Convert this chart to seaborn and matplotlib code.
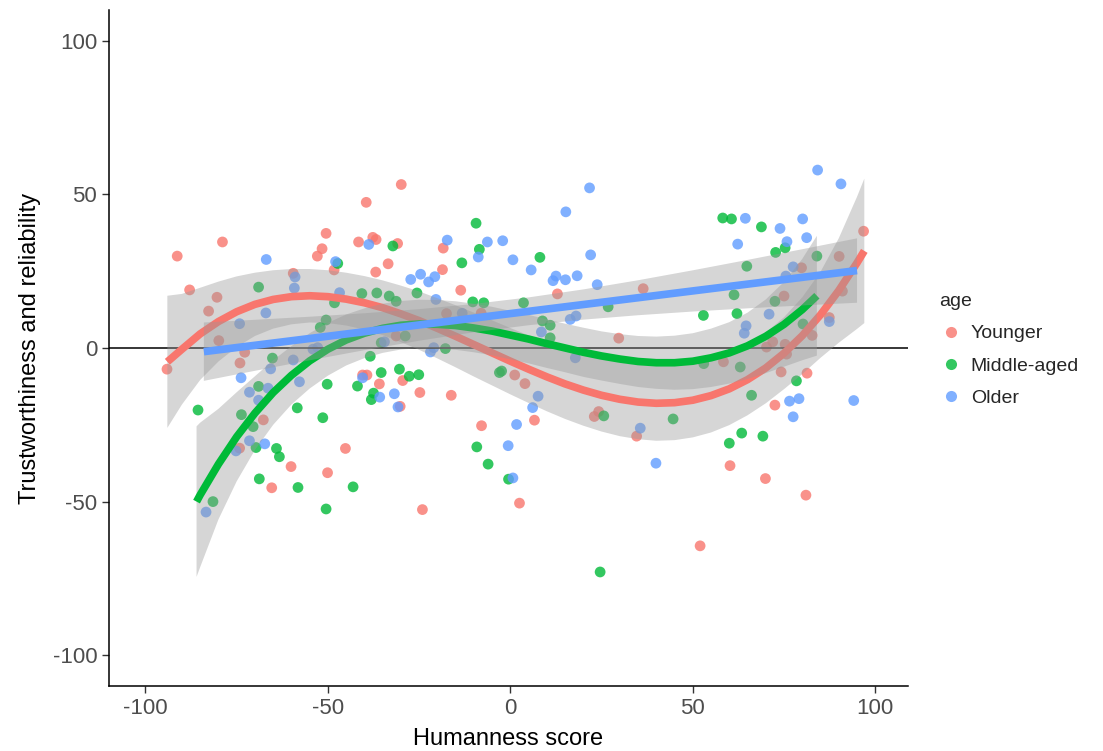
import numpy as np
import matplotlib
matplotlib.use("Agg")
import matplotlib.pyplot as plt
import pandas as pd
import seaborn as sns
from matplotlib.lines import Line2D

# scatter values
younger_x = [-91.3, -78.9, -50.5, -51.6, -52.9, -59.5, -87.9, -80.4, -29.9, -39.5,
             -41.6, -37.7, -36.8, -30.9, -18.4, -48.3, -33.5, -36.9, -18.6, -13.6,
             12.9, 36.4, 96.8, 90.1, 79.8, 75.0, 91.0, -82.7, -79.9, -72.8,
             -94.1, -74.1, -67.7, -74.2, -60.1, -65.4, -50.1, -40.5, -39.3, -29.5,
             -35.9, -24.8, -16.2, -30.2, -7.9, -45.2, -24.1, 2.5, -31.3, -17.5,
             -8.0, 1.2, 29.7, 4.0, 6.6, 24.2, 23.0, 34.6, 52.0, 87.4,
             82.7, 71.9, 70.2, 75.3, 75.7, 58.4, 74.2, 81.3, 72.5, 60.2,
             69.9, 81.0]
younger_y = [29.9, 34.5, 37.3, 32.3, 29.9, 24.3, 18.9, 16.5, 53.2, 47.4,
             34.5, 36.0, 35.3, 34.0, 32.5, 25.4, 27.4, 24.7, 25.5, 18.8,
             17.6, 19.3, 38.0, 29.8, 26.1, 16.9, 18.5, 12.0, 2.4, -1.4,
             -6.9, -4.9, -23.4, -32.6, -38.6, -45.5, -40.6, -8.8, -8.8, -10.6,
             -11.7, -14.5, -15.4, -19.0, -25.3, -32.7, -52.6, -50.5, 3.9, 11.2,
             11.3, -8.8, 3.2, -11.6, -23.5, -20.7, -22.3, -28.7, -64.4, 9.9,
             4.1, 2.0, 0.3, 1.2, -2.0, -4.5, -7.8, -8.2, -18.6, -38.3,
             -42.5, -47.9]

middle_x = [-69.0, -32.2, -9.4, -8.5, -47.3, -13.3, -25.6, -40.7, -36.6, -33.2,
            -31.3, -10.3, -7.3, -48.2, 8.1, 3.6, 58.2, 60.6, 68.8, 75.3,
            72.7, 84.0, 64.8, 61.3, 72.5, -65.2, -52.1, -50.5, -69.0, -85.6,
            -73.7, -70.5, -58.4, -51.4, -50.2, -69.7, -64.1, -63.3, -68.8, -58.2,
            -50.5, -81.5, -38.4, -35.4, -30.4, -27.7, -25.1, -41.9, -37.5, -38.1,
            -9.2, -17.8, -28.8, -35.4, -3.0, -2.4, -43.1, -6.1, -0.5, 26.8,
            52.9, 8.8, 10.9, 10.9, 53.0, 25.6, 44.6, 24.6, 62.1, 80.2,
            63.0, 78.4, 66.1, 63.4, 60.0, 69.2]
middle_y = [19.8, 33.2, 40.6, 32.1, 27.5, 27.7, 17.9, 17.7, 17.9, 16.9,
            15.2, 15.0, 14.7, 14.7, 29.5, 14.7, 42.3, 42.0, 39.4, 32.6,
            31.1, 29.9, 26.6, 17.3, 15.2, -3.3, 6.7, 9.1, -12.5, -20.2,
            -21.7, -25.6, -19.5, -22.7, -11.8, -32.4, -32.7, -35.4, -42.6, -45.4,
            -52.4, -50.0, -2.7, -8.0, -6.9, -9.2, -8.7, -12.4, -14.7, -16.8,
            -32.2, -0.2, 3.9, 1.7, -8.0, -7.5, -45.2, -37.8, -42.7, 13.4,
            10.6, 8.8, 7.4, 3.3, -5.1, -22.1, -23.1, -72.9, 11.2, 7.8,
            -6.2, -10.7, -15.4, -27.7, -31.0, -28.7]

older_x = [-66.9, -59.0, -59.2, -38.8, -17.3, -6.3, -2.1, -8.8, 0.7, -47.9,
           -24.6, -27.3, -20.7, -22.4, -20.4, -46.8, 21.7, 15.2, 22.0, 5.7,
           12.5, 11.7, 15.1, 18.3, 23.8, 84.2, 90.6, 64.4, 73.9, 80.1,
           81.2, 75.8, 62.3, 77.5, 75.5, -67.0, -74.2, -73.8, -65.7, -59.5,
           -57.8, -54.1, -52.8, -71.5, -66.4, -69.0, -71.5, -67.3, -75.2, -83.4,
           -40.5, -35.8, -31.8, -30.8, 1.7, -0.6, -21.0, -21.9, -34.5, -13.2,
           0.7, 16.4, 18.0, 8.5, 17.8, 7.6, 6.1, 35.6, 39.9, 70.9,
           64.6, 64.1, 87.4, 76.5, 79.1, 94.1, 77.5]
older_y = [28.8, 23.1, 19.5, 33.7, 35.1, 34.5, 34.9, 29.6, 28.7, 28.1,
           24.0, 22.3, 23.2, 21.5, 15.8, 18.0, 52.1, 44.3, 30.3, 25.4,
           23.4, 21.9, 22.2, 23.5, 20.6, 57.9, 53.4, 42.2, 38.9, 42.0,
           35.9, 34.6, 33.8, 26.4, 23.4, 11.4, 7.9, -9.7, -6.8, -3.9,
           -11.0, -0.4, 0.1, -14.4, -13.1, -17.0, -30.2, -31.2, -33.5, -53.4,
           -9.7, -16.0, -14.9, -19.2, -24.9, -31.8, 0.1, -1.3, 2.0, 11.3,
           -42.3, 9.3, 10.4, 5.2, -3.2, -15.7, -19.4, -26.1, -37.5, 11.0,
           7.2, 4.8, 8.6, -17.3, -16.5, -17.1, -22.4]

# smoothed trend lines and their confidence bands
younger_fit_x = [-94, -90, -85, -80, -75, -70, -65, -60, -55, -50, -45, -40, -35, -30,
                 -25, -20, -15, -10, -5, 0, 5, 10, 15, 20, 25, 30, 35, 40, 45, 50,
                 55, 60, 65, 70, 75, 80, 85, 90, 95, 97]
younger_fit_y = [-4.5, -0.4, 4.6, 8.6, 11.8, 14.2, 15.8, 16.7, 17.0, 16.7, 15.9, 14.7,
                 13.1, 11.1, 8.9, 6.4, 3.8, 1.1, -1.6, -4.3, -6.9, -9.4, -11.7, -13.7,
                 -15.4, -16.7, -17.6, -18.0, -17.8, -17.0, -15.5, -13.3, -10.3, -6.5,
                 -1.7, 4.0, 10.8, 18.7, 27.7, 31.6]
younger_lo = [-26.0, -18.4, -10.4, -4.4, 0.3, 3.9, 6.3, 7.7, 8.3, 8.1, 7.3, 6.0,
              4.2, 1.9, -0.6, -3.4, -6.3, -9.3, -12.2, -15.1, -17.9, -20.6, -23.1,
              -25.3, -27.2, -28.7, -29.7, -30.2, -30.0, -29.1, -27.5, -25.1, -21.9,
              -18.0, -13.4, -8.5, -3.2, 1.7, 6.2, 8.1]
younger_hi = [17.0, 17.6, 19.6, 21.6, 23.3, 24.5, 25.3, 25.7, 25.7, 25.3, 24.5, 23.4,
              22.0, 20.3, 18.4, 16.2, 13.9, 11.5, 9.0, 6.5, 4.1, 1.8, -0.3, -2.1,
              -3.6, -4.7, -5.5, -5.8, -5.6, -4.9, -3.5, -1.5, 1.3, 5.0, 10.0, 16.5,
              24.8, 35.7, 49.2, 55.1]

middle_fit_x = [-86, -85, -80, -75, -70, -65, -60, -55, -50, -45, -40, -35, -30, -25,
                -20, -15, -10, -5, 0, 5, 10, 15, 20, 25, 30, 35, 40, 45, 50, 55,
                60, 65, 70, 75, 80, 84]
middle_fit_y = [-50, -47.8, -37.8, -28.9, -21.2, -14.5, -8.9, -4.2, -0.4, 2.6, 4.8,
                6.4, 7.4, 7.8, 7.7, 7.3, 6.5, 5.5, 4.2, 2.9, 1.4, 0, -1.4, -2.6,
                -3.6, -4.4, -4.8, -4.8, -4.3, -3.2, -1.6, 0.7, 3.8, 7.7, 12.5, 17]
middle_lo = [-74.5, -71.3, -55.8, -43.4, -33.2, -25.0, -18.4, -13.2, -9.0, -5.7,
             -3.3, -1.6, -0.5, -0.1, -0.2, -0.6, -1.4, -2.4, -3.7, -5.0, -6.5,
             -7.9, -9.4, -10.6, -11.7, -12.7, -13.3, -13.6, -13.4, -12.7, -11.6,
             -10.1, -8.2, -6.1, -4.0, -2.5]
middle_hi = [-25.5, -24.3, -19.8, -14.4, -9.2, -4.0, 0.6, 4.8, 8.2, 10.9, 12.9,
             14.4, 15.3, 15.7, 15.6, 15.2, 14.4, 13.4, 12.1, 10.8, 9.3, 7.9, 6.6,
             5.4, 4.5, 3.9, 3.7, 4.0, 4.8, 6.3, 8.4, 11.5, 15.8, 21.5, 29.0, 36.5]

older_fit_x = [-84, -70, -55, -40, -25, -10, 5, 20, 35, 50, 65, 80, 95]
older_fit_y = [-1.2, 0.87, 3.08, 5.29, 7.50, 9.72, 11.93, 14.14, 16.35, 18.57,
               20.78, 22.99, 25.2]
older_lo = [-10.7, -7.43, -4.01, -0.72, 2.36, 5.11, 7.40, 9.22, 10.66, 11.86,
            12.90, 13.84, 14.72]
older_hi = [8.3, 9.17, 10.17, 11.30, 12.64, 14.33, 16.46, 19.06, 22.04, 25.28,
            28.66, 32.14, 35.68]

age_groups = ["Younger", "Middle-aged", "Older"]
palette = {"Younger": "#F8766D", "Middle-aged": "#00BA38", "Older": "#619CFF"}

df = pd.concat([
    pd.DataFrame({"x": younger_x, "y": younger_y, "age": "Younger"}),
    pd.DataFrame({"x": middle_x, "y": middle_y, "age": "Middle-aged"}),
    pd.DataFrame({"x": older_x, "y": older_y, "age": "Older"}),
], ignore_index=True)

fits = {
    "Younger": (younger_fit_x, younger_fit_y, younger_lo, younger_hi),
    "Middle-aged": (middle_fit_x, middle_fit_y, middle_lo, middle_hi),
    "Older": (older_fit_x, older_fit_y, older_lo, older_hi),
}

sns.set_theme(style="white")
plt.rcParams["font.family"] = ["Liberation Sans", "DejaVu Sans"]
plt.rcParams["axes.unicode_minus"] = False

fig = plt.figure(figsize=(11.03, 7.51), dpi=100)
ax = fig.add_axes([0.0988, 0.0866, 0.7245, 0.9001])

sns.scatterplot(data=df, x="x", y="y", hue="age", hue_order=age_groups,
                palette=palette, s=60, alpha=0.8, linewidth=0, legend=False,
                ax=ax, zorder=1)

ax.axhline(0, color="black", lw=1.1, zorder=1.5)

# ribbon then line, group by group (as ggplot stacks them)
z = 2
for grp in age_groups:
    fx, fy, lo, hi = fits[grp]
    ax.fill_between(fx, lo, hi, facecolor="#999999", alpha=0.4,
                    edgecolor="none", zorder=z)
    sns.lineplot(x=fx, y=fy, color=palette[grp], lw=5.5, ax=ax, zorder=z + 1,
                 solid_joinstyle="round", solid_capstyle="butt")
    z += 2

ax.set_xlim(-110, 109)
ax.set_ylim(-110, 110)
ax.set_xticks([-100, -50, 0, 50, 100])
ax.set_yticks([-100, -50, 0, 50, 100])
ax.tick_params(axis="both", labelsize=16, labelcolor="#4D4D4D", color="#333333",
               length=5, width=1, direction="out", bottom=True, left=True)
for side in ["top", "right"]:
    ax.spines[side].set_visible(False)
for side in ["left", "bottom"]:
    ax.spines[side].set_color("black")
    ax.spines[side].set_linewidth(1.1)

ax.set_xlabel("Humanness score", fontsize=17, color="black", labelpad=7)
ax.set_ylabel("Trustworthiness and reliability", fontsize=17, color="black", labelpad=8)

handles = [Line2D([], [], marker="o", ls="", color=palette[g], markersize=8, alpha=0.8,
                  markeredgewidth=0) for g in age_groups]
leg = fig.legend(handles, age_groups, title="age", loc="upper left",
                 bbox_to_anchor=(0.836, 0.633), frameon=False, fontsize=14,
                 title_fontsize=14, labelspacing=0.75, handletextpad=0.4,
                 handlelength=1.2, alignment="left")

fig.savefig("out.png", dpi=100)
